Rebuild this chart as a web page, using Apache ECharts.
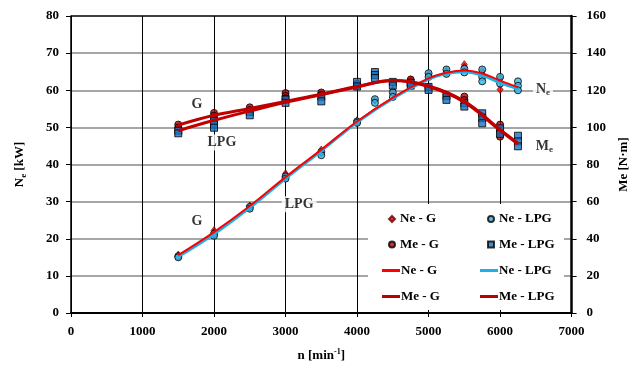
<!DOCTYPE html>
<html>
<head>
<meta charset="utf-8">
<script src="https://cdn.jsdelivr.net/npm/echarts@6/dist/echarts.min.js"></script>
<style>
  html, body { margin: 0; padding: 0; background: #fff; }
  #chart { width: 638px; height: 371px; }
</style>
</head>
<body>
<div id="chart"></div>
<script>
// Engine speed n [min^-1] vs effective power Ne [kW] and torque Me [N·m]
// for gasoline (G) and LPG fuelling.

// Measured points: [speed, value] pairs (repeated runs per speed)
const neG = [
  [1500, 15.6], [1500, 15.3], [2000, 22.2], [2000, 21.6], [2500, 28.8], [2500, 28.4],
  [3000, 37.5], [3000, 37.0], [3000, 36.6], [3500, 43.9], [3500, 43.2], [4000, 51.8], [4000, 51.3],
  [4250, 57.3], [4500, 60.0], [4500, 59.2], [4750, 62.8], [5000, 64.3], [5000, 63.8],
  [5250, 65.3], [5250, 64.8], [5500, 66.9], [5500, 66.2], [5750, 65.2], [5750, 64.5],
  [6000, 63.2], [6000, 60.2]
];
const neLpg = [
  [1500, 15.3], [1500, 15.0], [2000, 21.3], [2000, 20.8], [2500, 28.6], [2500, 28.1],
  [3000, 36.8], [3000, 36.2], [3500, 43.4], [3500, 42.5], [4000, 51.6], [4000, 51.2],
  [4250, 57.6], [4250, 56.6], [4500, 59.4], [4500, 58.2], [4750, 62.0], [4750, 61.2],
  [5000, 64.6], [5000, 63.6], [5250, 65.6], [5250, 64.4], [5500, 65.8], [5500, 64.8],
  [5750, 65.6], [5750, 63.6], [5750, 62.4], [6000, 63.6], [6000, 61.8],
  [6250, 62.4], [6250, 61.2], [6250, 60.0]
];
const meG = [
  [1500, 101.5], [1500, 100.0], [2000, 107.8], [2000, 106.3], [2000, 105.0],
  [2500, 110.8], [2500, 109.4], [3000, 118.5], [3000, 117.0], [3000, 115.6],
  [3500, 118.8], [3500, 117.5], [4000, 123.5], [4000, 122.4], [4750, 125.8],
  [5000, 121.5], [5250, 117.5], [5500, 116.6], [5500, 114.8], [5750, 106.0],
  [6000, 101.5], [6000, 97.6], [6000, 95.0]
];
const meLpg = [
  [1500, 98.2], [1500, 96.8], [2000, 103.5], [2000, 101.5], [2000, 99.8],
  [2500, 108.3], [2500, 106.5], [3000, 115.0], [3000, 113.2], [3500, 116.5], [3500, 114.0],
  [4000, 124.5], [4000, 122.0], [4250, 129.8], [4250, 128.2], [4250, 126.6],
  [4500, 124.5], [4500, 122.5], [4750, 124.0], [4750, 122.5], [5000, 121.8], [5000, 120.2],
  [5250, 116.8], [5250, 114.8], [5500, 113.0], [5500, 111.2],
  [5750, 107.6], [5750, 105.0], [5750, 102.2], [6000, 99.5], [6000, 96.5],
  [6250, 95.5], [6250, 92.5], [6250, 89.8]
];

// Trend curves
const neFitSpeeds = [1500, 2000, 2500, 3000, 3500, 4000, 4500, 5000, 5250, 5500, 5750, 6000, 6250];
const neGFit   = [15.6, 21.8, 28.8, 36.6, 44.0, 51.6, 58.0, 63.2, 64.7, 65.3, 64.5, 62.6, 60.8];
const neLpgFit = [15.2, 21.3, 28.4, 36.2, 43.7, 51.4, 57.8, 63.0, 64.5, 65.0, 64.0, 62.0, 60.4];
const meFitSpeeds = [1500, 2000, 2500, 3000, 3500, 4000, 4500, 5000, 5500, 6000, 6250];
const meGFit   = [101.2, 106.5, 110.2, 114.0, 117.8, 122.0, 125.2, 122.3, 114.0, 98.8, 91.5];
const meLpgFit = [98.2, 103.8, 108.8, 113.5, 117.6, 121.8, 125.3, 122.0, 113.6, 98.4, 91.0];

// Curve annotations: [speed, value, text]
const neNotes = [[1760, 24.7, 'G'], [3190, 29.3, 'LPG'], [6600, 60.3, 'N{sub|e}']];
const meNotes = [[1760, 112.5, 'G'], [2110, 91.8, 'LPG'], [6620, 89.8, 'M{sub|e}']];

const xTicks = [0, 7000, 1000];
const neTicks = [0, 80, 10];
const meTicks = [0, 160, 20];

const FONT = 'Liberation Serif';
const C_NE_G = '#ff0000';
const C_NE_LPG = '#1fb0ea';
const C_ME = '#c00000';
const C_ME_LPG_PT = '#1670c0';
const C_NE_LPG_PT = '#35b6e8';

const zip = (xs, ys) => xs.map((x, i) => [x, ys[i]]);
const txt = { fontFamily: FONT, fontWeight: 'bold', fontSize: 13, color: '#000' };
const rich = {
  sub: { fontFamily: FONT, fontWeight: 'bold', fontSize: 9, color: '#000', padding: [7, 0, 0, 0] },
  sup: { fontFamily: FONT, fontWeight: 'bold', fontSize: 8, color: '#000', padding: [0, 0, 7, 0] }
};

const noteSeries = (data, yIdx) => ({
  type: 'scatter', yAxisIndex: yIdx, data: data, symbolSize: 0, silent: true, z: 6,
  label: {
    show: true, position: 'inside',
    formatter: p => p.value[2],
    ...txt, fontSize: 14, backgroundColor: '#fff', padding: [1, 3], rich: rich
  }
});

const legendBase = {
  orient: 'vertical', padding: 0, selectedMode: false,
  textStyle: { ...txt, lineHeight: 14 }
};

const chart = echarts.init(document.getElementById('chart'), null, { renderer: 'canvas' });
chart.setOption({
  animation: false,
  backgroundColor: '#fff',
  grid: { left: 71, right: 64, top: 16, bottom: 58, show: false },
  graphic: [{
    type: 'rect', z: 1, silent: true,
    shape: { x: 368, y: 204, width: 196, height: 106 },
    style: { fill: '#fff' }
  }],
  legend: [
    { ...legendBase, left: 388, top: 212, itemGap: 11.5, itemWidth: 6, itemHeight: 6,
      data: ['Ne - G', 'Me - G'] },
    { ...legendBase, left: 487, top: 212, itemGap: 11.5, itemWidth: 6, itemHeight: 6,
      data: ['Ne - LPG', 'Me - LPG'] },
    { ...legendBase, left: 382, top: 263.5, itemGap: 12, itemWidth: 18, itemHeight: 3,
      textStyle: { ...txt, lineHeight: 14, padding: [0, 0, 0, -4] },
      data: [{ name: 'Ne - G ', icon: 'rect' }, { name: 'Me - G ', icon: 'rect' }],
      formatter: n => n.trim() },
    { ...legendBase, left: 480, top: 263.5, itemGap: 12, itemWidth: 18, itemHeight: 3,
      textStyle: { ...txt, lineHeight: 14, padding: [0, 0, 0, -4] },
      data: [{ name: 'Ne - LPG ', icon: 'rect' }, { name: 'Me - LPG ', icon: 'rect' }],
      formatter: n => n.trim() }
  ],
  xAxis: {
    type: 'value', min: xTicks[0], max: xTicks[1], interval: xTicks[2],
    name: 'n [min{sup|-1}]', nameLocation: 'middle', nameGap: 35,
    nameTextStyle: { ...txt, rich: rich },
    axisLine: { lineStyle: { color: '#000', width: 2 } },
    axisTick: { show: true, length: 4, lineStyle: { color: '#000', width: 1 } },
    axisLabel: { ...txt, margin: 12, formatter: v => String(v) },
    splitLine: { show: true, lineStyle: { color: '#000', width: 1 } }
  },
  yAxis: [{
    type: 'value', min: neTicks[0], max: neTicks[1], interval: neTicks[2],
    name: 'N{sub|e} [kW]', nameLocation: 'middle', nameGap: 43,
    nameTextStyle: { ...txt, rich: rich },
    axisLine: { show: true, lineStyle: { color: '#000', width: 1.5 } },
    axisTick: { show: true, length: 5, lineStyle: { color: '#000', width: 1 } },
    axisLabel: { ...txt, margin: 12 },
    splitLine: { show: true, lineStyle: {
      color: ['#888', '#888', '#888', '#888', '#888', '#888', '#888', '#888', '#000'], width: 1.5 } }
  }, {
    type: 'value', min: meTicks[0], max: meTicks[1], interval: meTicks[2], position: 'right',
    name: 'Me [N·m]', nameLocation: 'middle', nameGap: 42, nameRotate: 90,
    nameTextStyle: { ...txt },
    axisLine: { show: true, lineStyle: { color: '#000', width: 2.5 } },
    axisTick: { show: true, length: 5, lineStyle: { color: '#000', width: 1 } },
    axisLabel: { ...txt, margin: 15 },
    splitLine: { show: false }
  }],
  series: [
    { name: 'Ne - G', type: 'scatter', yAxisIndex: 0, data: neG, symbol: 'diamond', symbolSize: [6, 8], z: 3,
      itemStyle: { color: C_NE_G, borderColor: '#600', borderWidth: 0.8 } },
    { name: 'Ne - LPG', type: 'scatter', yAxisIndex: 0, data: neLpg, symbol: 'circle', symbolSize: 7, z: 3,
      itemStyle: { color: C_NE_LPG_PT, borderColor: '#000', borderWidth: 1 } },
    { name: 'Me - G', type: 'scatter', yAxisIndex: 1, data: meG, symbol: 'circle', symbolSize: 7, z: 3,
      itemStyle: { color: C_ME, borderColor: '#000', borderWidth: 1 } },
    { name: 'Me - LPG', type: 'scatter', yAxisIndex: 1, data: meLpg, symbol: 'rect', symbolSize: 7, z: 3,
      itemStyle: { color: C_ME_LPG_PT, borderColor: '#000', borderWidth: 1 } },
    { name: 'Ne - G ', type: 'line', yAxisIndex: 0, data: zip(neFitSpeeds, neGFit), smooth: 0.4,
      symbol: 'none', z: 5, itemStyle: { color: C_NE_G }, lineStyle: { color: C_NE_G, width: 2 } },
    { name: 'Ne - LPG ', type: 'line', yAxisIndex: 0, data: zip(neFitSpeeds, neLpgFit), smooth: 0.4,
      symbol: 'none', z: 4, itemStyle: { color: C_NE_LPG }, lineStyle: { color: C_NE_LPG, width: 3 } },
    { name: 'Me - G ', type: 'line', yAxisIndex: 1, data: zip(meFitSpeeds, meGFit), smooth: 0.4,
      symbol: 'none', z: 5, itemStyle: { color: C_ME }, lineStyle: { color: C_ME, width: 3 } },
    { name: 'Me - LPG ', type: 'line', yAxisIndex: 1, data: zip(meFitSpeeds, meLpgFit), smooth: 0.4,
      symbol: 'none', z: 5, itemStyle: { color: C_ME }, lineStyle: { color: C_ME, width: 3 } },
    noteSeries(neNotes, 0),
    noteSeries(meNotes, 1)
  ]
});
</script>
</body>
</html>
